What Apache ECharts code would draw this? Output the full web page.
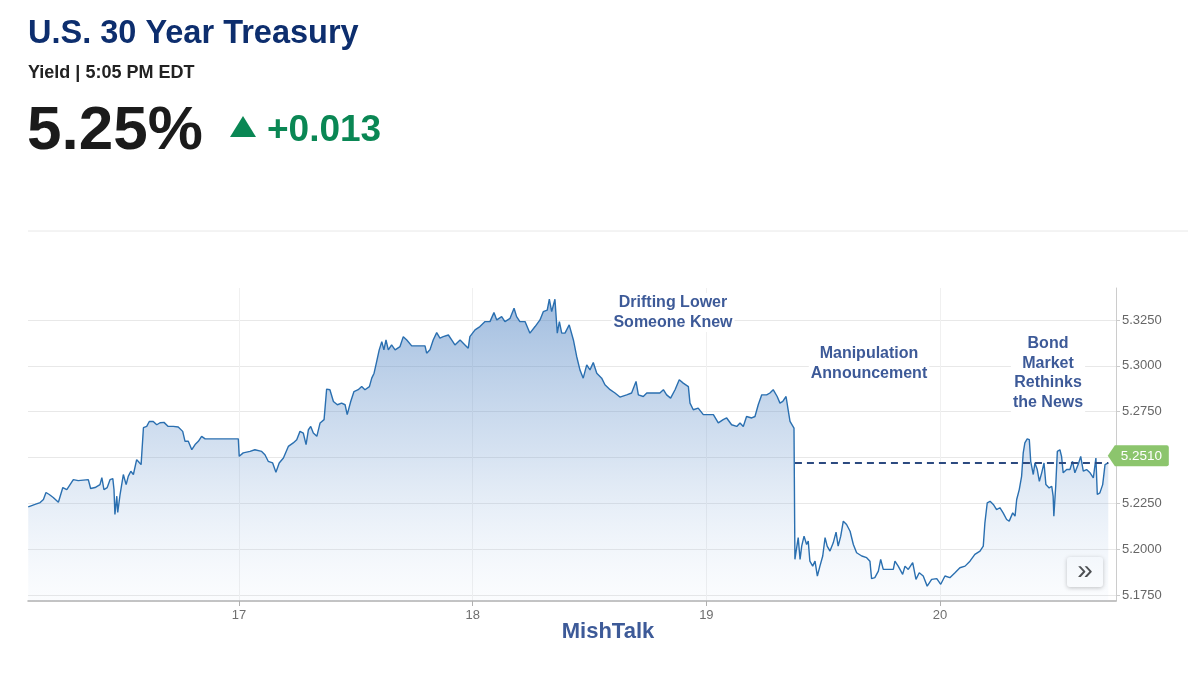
<!DOCTYPE html>
<html>
<head>
<meta charset="utf-8">
<script src="https://cdn.jsdelivr.net/npm/echarts@6/dist/echarts.min.js"></script>
<style>
html,body{margin:0;padding:0;background:#fff;}
#chart{width:1200px;height:675px;}
</style>
</head>
<body>
<div id="chart"></div>
<script>
// ---- data ----
const times = [
16.098,16.113,16.127,16.149,16.163,16.174,16.188,16.205,16.227,16.246,16.263,16.277,16.291,16.312,16.355,16.365,16.384,16.405,16.413,16.422,
16.436,16.448,16.460,16.465,16.469,16.477,16.481,16.491,16.505,16.517,16.526,16.537,16.548,16.562,16.573,16.581,16.591,16.605,16.616,16.633,
16.648,16.662,16.679,16.697,16.719,16.740,16.759,16.769,16.783,16.798,16.812,16.826,16.840,16.855,16.997,17.001,17.018,17.047,17.068,17.097,
17.111,17.125,17.144,17.158,17.172,17.190,17.211,17.232,17.247,17.261,17.275,17.287,17.297,17.307,17.318,17.333,17.347,17.364,17.375,17.389,
17.404,17.421,17.439,17.454,17.463,17.478,17.492,17.510,17.525,17.539,17.558,17.568,17.578,17.589,17.600,17.611,17.620,17.629,17.639,17.653,
17.668,17.689,17.703,17.718,17.739,17.796,17.803,17.817,17.831,17.846,17.860,17.874,17.896,17.910,17.924,17.946,17.967,17.981,17.988,18.010,
18.031,18.053,18.074,18.091,18.103,18.124,18.138,18.160,18.177,18.188,18.202,18.224,18.245,18.267,18.288,18.302,18.319,18.328,18.338,18.352,
18.362,18.371,18.381,18.395,18.413,18.431,18.445,18.459,18.473,18.488,18.502,18.516,18.531,18.552,18.566,18.588,18.609,18.630,18.659,18.680,
18.699,18.709,18.730,18.745,18.801,18.816,18.830,18.847,18.866,18.884,18.901,18.923,18.930,18.944,18.965,18.987,19.008,19.030,19.051,19.072,
19.087,19.108,19.130,19.144,19.158,19.172,19.194,19.208,19.222,19.237,19.258,19.272,19.286,19.303,19.315,19.327,19.341,19.351,19.358,19.365,
19.375,19.379,19.386,19.393,19.401,19.408,19.418,19.429,19.436,19.443,19.455,19.465,19.475,19.486,19.498,19.508,19.517,19.529,19.543,19.555,
19.564,19.575,19.586,19.600,19.615,19.629,19.643,19.665,19.686,19.700,19.707,19.721,19.736,19.746,19.757,19.800,19.807,19.821,19.840,19.850,
19.864,19.883,19.897,19.911,19.928,19.945,19.964,19.986,20.003,20.021,20.042,20.064,20.085,20.107,20.128,20.149,20.171,20.185,20.192,20.202,
20.214,20.228,20.242,20.256,20.270,20.285,20.296,20.311,20.321,20.328,20.339,20.349,20.356,20.363,20.373,20.382,20.388,20.399,20.406,20.416,
20.425,20.435,20.445,20.453,20.467,20.478,20.484,20.487,20.495,20.502,20.513,20.520,20.527,20.542,20.556,20.567,20.577,20.591,20.602,20.613,
20.627,20.642,20.656,20.667,20.673,20.684,20.696,20.706,20.720
];
const yields = [
5.2232,5.2239,5.2245,5.2255,5.2272,5.2310,5.2299,5.2283,5.2257,5.2337,5.2326,5.2353,5.2380,5.2375,5.2380,5.2332,5.2337,5.2353,5.2391,5.2326,
5.2337,5.2380,5.2386,5.2326,5.2190,5.2290,5.2201,5.2299,5.2408,5.2353,5.2398,5.2426,5.2408,5.2489,5.2473,5.2462,5.2663,5.2670,5.2697,5.2697,
5.2679,5.2690,5.2692,5.2670,5.2670,5.2667,5.2643,5.2589,5.2589,5.2543,5.2571,5.2589,5.2616,5.2602,5.2602,5.2507,5.2526,5.2534,5.2543,5.2534,
5.2516,5.2480,5.2471,5.2420,5.2471,5.2498,5.2561,5.2580,5.2598,5.2643,5.2634,5.2571,5.2652,5.2670,5.2634,5.2616,5.2689,5.2707,5.2873,5.2870,
5.2806,5.2788,5.2797,5.2788,5.2734,5.2806,5.2860,5.2870,5.2887,5.2870,5.2887,5.2933,5.2960,5.3023,5.3087,5.3132,5.3087,5.3141,5.3087,5.3114,
5.3087,5.3105,5.3159,5.3141,5.3109,5.3109,5.3069,5.3087,5.3141,5.3181,5.3151,5.3159,5.3168,5.3141,5.3114,5.3141,5.3114,5.3096,5.3159,5.3196,
5.3214,5.3241,5.3241,5.3290,5.3250,5.3268,5.3241,5.3259,5.3314,5.3268,5.3241,5.3241,5.3178,5.3214,5.3250,5.3295,5.3304,5.3363,5.3295,5.3363,
5.3178,5.3241,5.3178,5.3178,5.3223,5.3141,5.3051,5.2978,5.2933,5.3005,5.2978,5.3018,5.2960,5.2933,5.2897,5.2870,5.2852,5.2830,5.2842,5.2852,
5.2915,5.2842,5.2833,5.2852,5.2852,5.2870,5.2842,5.2824,5.2870,5.2924,5.2906,5.2887,5.2797,5.2761,5.2770,5.2734,5.2734,5.2734,5.2689,5.2707,
5.2716,5.2679,5.2670,5.2689,5.2670,5.2724,5.2716,5.2724,5.2788,5.2842,5.2842,5.2852,5.2870,5.2833,5.2797,5.2806,5.2833,5.2752,5.2697,5.2707,
5.2661,5.1946,5.1936,5.2064,5.1946,5.2018,5.2072,5.2027,5.2045,5.1936,5.1909,5.1936,5.1855,5.1909,5.1964,5.2064,5.2018,5.1991,5.2036,5.2094,
5.2018,5.2072,5.2154,5.2136,5.2099,5.2027,5.1982,5.1964,5.1955,5.1936,5.1841,5.1846,5.1882,5.1946,5.1891,5.1891,5.1936,5.1909,5.1864,5.1909,
5.1891,5.1928,5.1837,5.1873,5.1855,5.1800,5.1837,5.1841,5.1810,5.1855,5.1846,5.1873,5.1900,5.1909,5.1936,5.1973,5.1991,5.2018,5.2145,5.2254,
5.2262,5.2245,5.2217,5.2227,5.2199,5.2163,5.2154,5.2199,5.2181,5.2272,5.2326,5.2398,5.2526,5.2580,5.2602,5.2598,5.2480,5.2408,5.2471,5.2435,
5.2371,5.2417,5.2471,5.2353,5.2335,5.2344,5.2290,5.2181,5.2344,5.2534,5.2543,5.2507,5.2417,5.2435,5.2435,5.2480,5.2417,5.2462,5.2507,5.2426,
5.2435,5.2417,5.2390,5.2498,5.2299,5.2308,5.2353,5.2462,5.2471
];
const xTickValues = [17, 18, 19, 20];
const yTickValues = [5.175, 5.2, 5.225, 5.25, 5.275, 5.3, 5.325];
const xRange = [16.097, 20.753];
const yRange = [5.1719, 5.3424];
const lastYieldLabel = 5.2510;
const refLevel = 5.2471;      // dashed reference line
const refStart = 19.379;      // where the dashed line starts

const seriesData = times.map((t, i) => [t, yields[i]]);
const lastTime = times[times.length - 1];

const chart = echarts.init(document.getElementById('chart'), null, {renderer: 'canvas'});
const navy = '#0d2e6e';
const annBlue = '#3d5a98';
const font = 'Liberation Sans, Arial, sans-serif';

function annotation(x, y, text) {
  return {type: 'text', x: x, y: y, z: 50,
    style: {text: text, fill: annBlue, font: 'bold 16px ' + font, align: 'center', lineHeight: 19.5,
      backgroundColor: '#ffffff', padding: [0, 2]}};
}

chart.setOption({
  animation: false,
  backgroundColor: '#ffffff',
  textStyle: {fontFamily: font},
  grid: {left: 28, right: 84, top: 288, bottom: 74},
  xAxis: {
    type: 'value',
    min: xRange[0], max: xRange[1],
    axisLine: {show: true, lineStyle: {color: '#b0b0b0', width: 1.5}},
    axisTick: {show: true, customValues: xTickValues, length: 5, lineStyle: {color: '#b0b0b0'}},
    axisLabel: {customValues: xTickValues, color: '#6f6f6f', fontSize: 13, margin: 8, fontFamily: font},
    splitLine: {show: true, lineStyle: {color: '#f0f0f0', width: 1}}
  },
  yAxis: {
    type: 'value',
    position: 'right',
    min: yRange[0], max: yRange[1],
    axisLine: {show: true, lineStyle: {color: '#cccccc', width: 1}},
    axisTick: {show: true, customValues: yTickValues, length: 4, inside: false, lineStyle: {color: '#cccccc'}},
    axisLabel: {customValues: yTickValues, color: '#666', fontSize: 13, margin: 6, fontFamily: font,
      formatter: v => Number(v).toFixed(4)},
    splitLine: {show: true, lineStyle: {color: '#e8e8e8', width: 1}}
  },
  series: [{
    type: 'line',
    data: seriesData,
    showSymbol: false,
    symbol: 'none',
    lineStyle: {color: '#2a6fb0', width: 1.4},
    areaStyle: {
      color: new echarts.graphic.LinearGradient(0, 0, 0, 1, [
        {offset: 0, color: 'rgba(70,125,192,0.72)'},
        {offset: 0.5, color: 'rgba(105,150,205,0.40)'},
        {offset: 1, color: 'rgba(180,205,235,0.08)'}
      ])
    },
    markLine: {
      silent: true,
      symbol: ['none', 'none'],
      label: {show: false},
      lineStyle: {color: '#2c4a80', width: 2, type: [7, 5]},
      data: [[{coord: [refStart, refLevel]}, {coord: [lastTime, refLevel]}]]
    },
    markPoint: {
      silent: true,
      z: 20,
      data: [{
        coord: [lastTime, lastYieldLabel],
        symbol: 'path://M0,10L7,0L58,0Q60,0 60,2L60,18Q60,20 58,20L7,20Z',
        symbolSize: [61, 21],
        symbolKeepAspect: false,
        symbolOffset: [30, 0],
        itemStyle: {color: '#8cc56d'},
        label: {show: true, position: 'inside', offset: [3, 0], color: '#fff', fontSize: 13.5,
          fontFamily: font, formatter: lastYieldLabel.toFixed(4)}
      }]
    }
  }],
  graphic: [
    {type: 'text', left: 28, top: 18, style: {text: 'U.S. 30 Year Treasury', fill: navy, font: 'bold 32.5px ' + font}},
    {type: 'text', left: 28, top: 64, style: {text: 'Yield | 5:05 PM EDT', fill: '#222', font: 'bold 18px ' + font}},
    {type: 'text', left: 27, top: 101, style: {text: '5.25%', fill: '#1b1b1b', font: 'bold 62px ' + font}},
    {type: 'polygon', shape: {points: [[230, 137], [243, 116], [256, 137]]}, style: {fill: '#0a8754'}},
    {type: 'text', left: 267, top: 112, style: {text: '+0.013', fill: '#0a8754', font: 'bold 37px ' + font}},
    {type: 'line', shape: {x1: 28, y1: 231, x2: 1188, y2: 231}, style: {stroke: '#e8e8e8', lineWidth: 1}},
    annotation(673, 293, 'Drifting Lower\nSomeone Knew'),
    annotation(869, 344, 'Manipulation\nAnnouncement'),
    annotation(1048, 334, 'Bond\nMarket\nRethinks\nthe News'),
    {type: 'text', x: 608, y: 621, style: {text: 'MishTalk', fill: annBlue, font: 'bold 22px ' + font, align: 'center'}},
    {type: 'group', left: 1067, top: 557, z: 50, children: [
      {type: 'rect', shape: {x: 0, y: 0, width: 36, height: 30, r: 3},
        style: {fill: '#ffffff', shadowBlur: 4, shadowColor: 'rgba(0,0,0,0.25)', shadowOffsetY: 1}},
      {type: 'text', x: 18, y: 14, style: {text: '»', fill: '#444', font: '28px ' + font, align: 'center', verticalAlign: 'middle'}}
    ]}
  ]
});
</script>
</body>
</html>
